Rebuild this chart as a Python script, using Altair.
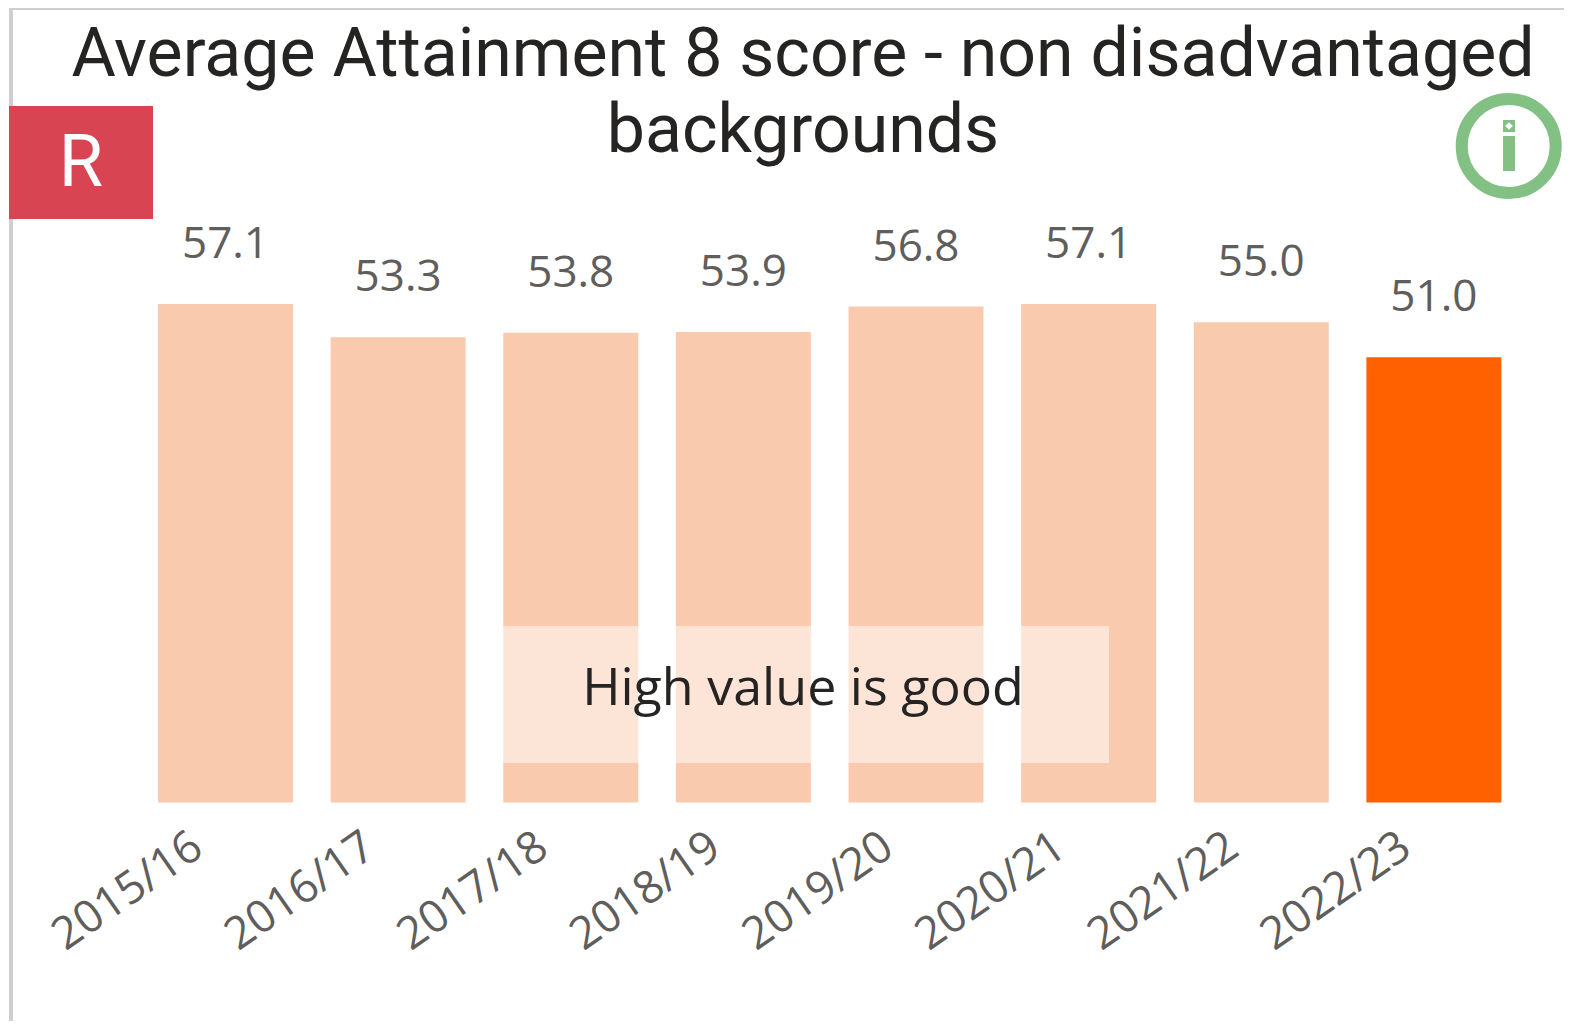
import altair as alt
import pandas as pd

years = ["2015/16", "2016/17", "2017/18", "2018/19", "2019/20", "2020/21", "2021/22", "2022/23"]
scores = [57.1, 53.3, 53.8, 53.9, 56.8, 57.1, 55.0, 51.0]
labels = ["57.1", "53.3", "53.8", "53.9", "56.8", "57.1", "55.0", "51.0"]
highlight = ["no", "no", "no", "no", "no", "no", "no", "yes"]
title_lines = ["Average Attainment 8 score - non disadvantaged", "backgrounds"]
note = "High value is good"
badge = "R"

PAD_L, PAD_T = 131.2, 296
W, H = 1381, 498.5
ox, oy = PAD_L + 8, PAD_T + 8   # page position of the plot origin
px = lambda v: v - ox
py = lambda v: v - oy

df = pd.DataFrame({"year": years, "score": scores, "label": labels, "hl": highlight})
x = alt.X("year:N", sort=years, scale=alt.Scale(paddingInner=0.218, paddingOuter=0.109),
          axis=alt.Axis(title=None, domain=False, ticks=False, grid=False, labelAngle=325,
                        labelFontSize=45, labelFont="Open Sans", labelColor="#605E5C",
                        labelAlign="right", labelBaseline="middle", labelPadding=39, labelOffset=-28))
y = alt.Y("score:Q", scale=alt.Scale(domain=[0, 57.1], nice=False, zero=True), axis=None)

base = alt.Chart(df)
bars = base.mark_bar().encode(
    x=x, y=y,
    color=alt.Color("hl:N", scale=alt.Scale(domain=["no", "yes"], range=["#F9CAAE", "#FF6000"]), legend=None),
)
values = base.mark_text(font="Open Sans", fontSize=44, color="#605E5C", baseline="alphabetic", dy=-46).encode(
    x=alt.X("year:N", sort=years), y=y, text="label:N")

one = pd.DataFrame({"a": [0]})
ann = alt.Chart(one)

def box(x0, x1, y0, y1, color, opacity=1):
    return ann.mark_rect(color=color, opacity=opacity).encode(
        x=alt.value(px(x0)), x2=alt.value(px(x1)), y=alt.value(py(y0)), y2=alt.value(py(y1)))

def txt(s, cx, base_y, size, font, color, **kw):
    return alt.Chart(pd.DataFrame({"t": [s]})).mark_text(
        font=font, fontSize=size, color=color, align="center", baseline="alphabetic", **kw
    ).encode(x=alt.value(px(cx)), y=alt.value(py(base_y)), text="t:N")

layers = [
    bars, values,
    box(9, 1572, 6, 10, "#CFCFCF"),
    box(9, 13, 6, 1029, "#CFCFCF"),
    box(9, 153, 106, 219, "#D94452"),
    txt(badge, 81, 186, 72, "Roboto", "#FFFFFF", fontWeight=400),
    txt(title_lines[0], 803, 76, 68, "Roboto", "#252423"),
    txt(title_lines[1], 803, 152, 68, "Roboto", "#252423"),
    box(503, 1109, 626, 763, "#FFFFFF", 0.5),
    txt(note, 803, 705, 52, "Open Sans", "#252423"),
    ann.mark_point(shape="circle", size=8836, filled=False, stroke="#82C084", strokeWidth=12, opacity=1).encode(
        x=alt.value(px(1508.7)), y=alt.value(py(146))),
    box(1503, 1515, 120, 132, "#82C084"),
    ann.mark_point(shape="diamond", size=60, filled=True, color="#FFFFFF", opacity=1).encode(
        x=alt.value(px(1509)), y=alt.value(py(126))),
    box(1503, 1515, 136, 171, "#82C084"),
]

chart = alt.layer(*layers).properties(
    width=W, height=H, autosize="none",
    padding={"left": PAD_L, "top": PAD_T, "right": 1556 - PAD_L - W, "bottom": 1013 - PAD_T - H},
).configure_view(stroke=None)

chart.save("out.html", embed_options={"renderer": "svg", "actions": False})
